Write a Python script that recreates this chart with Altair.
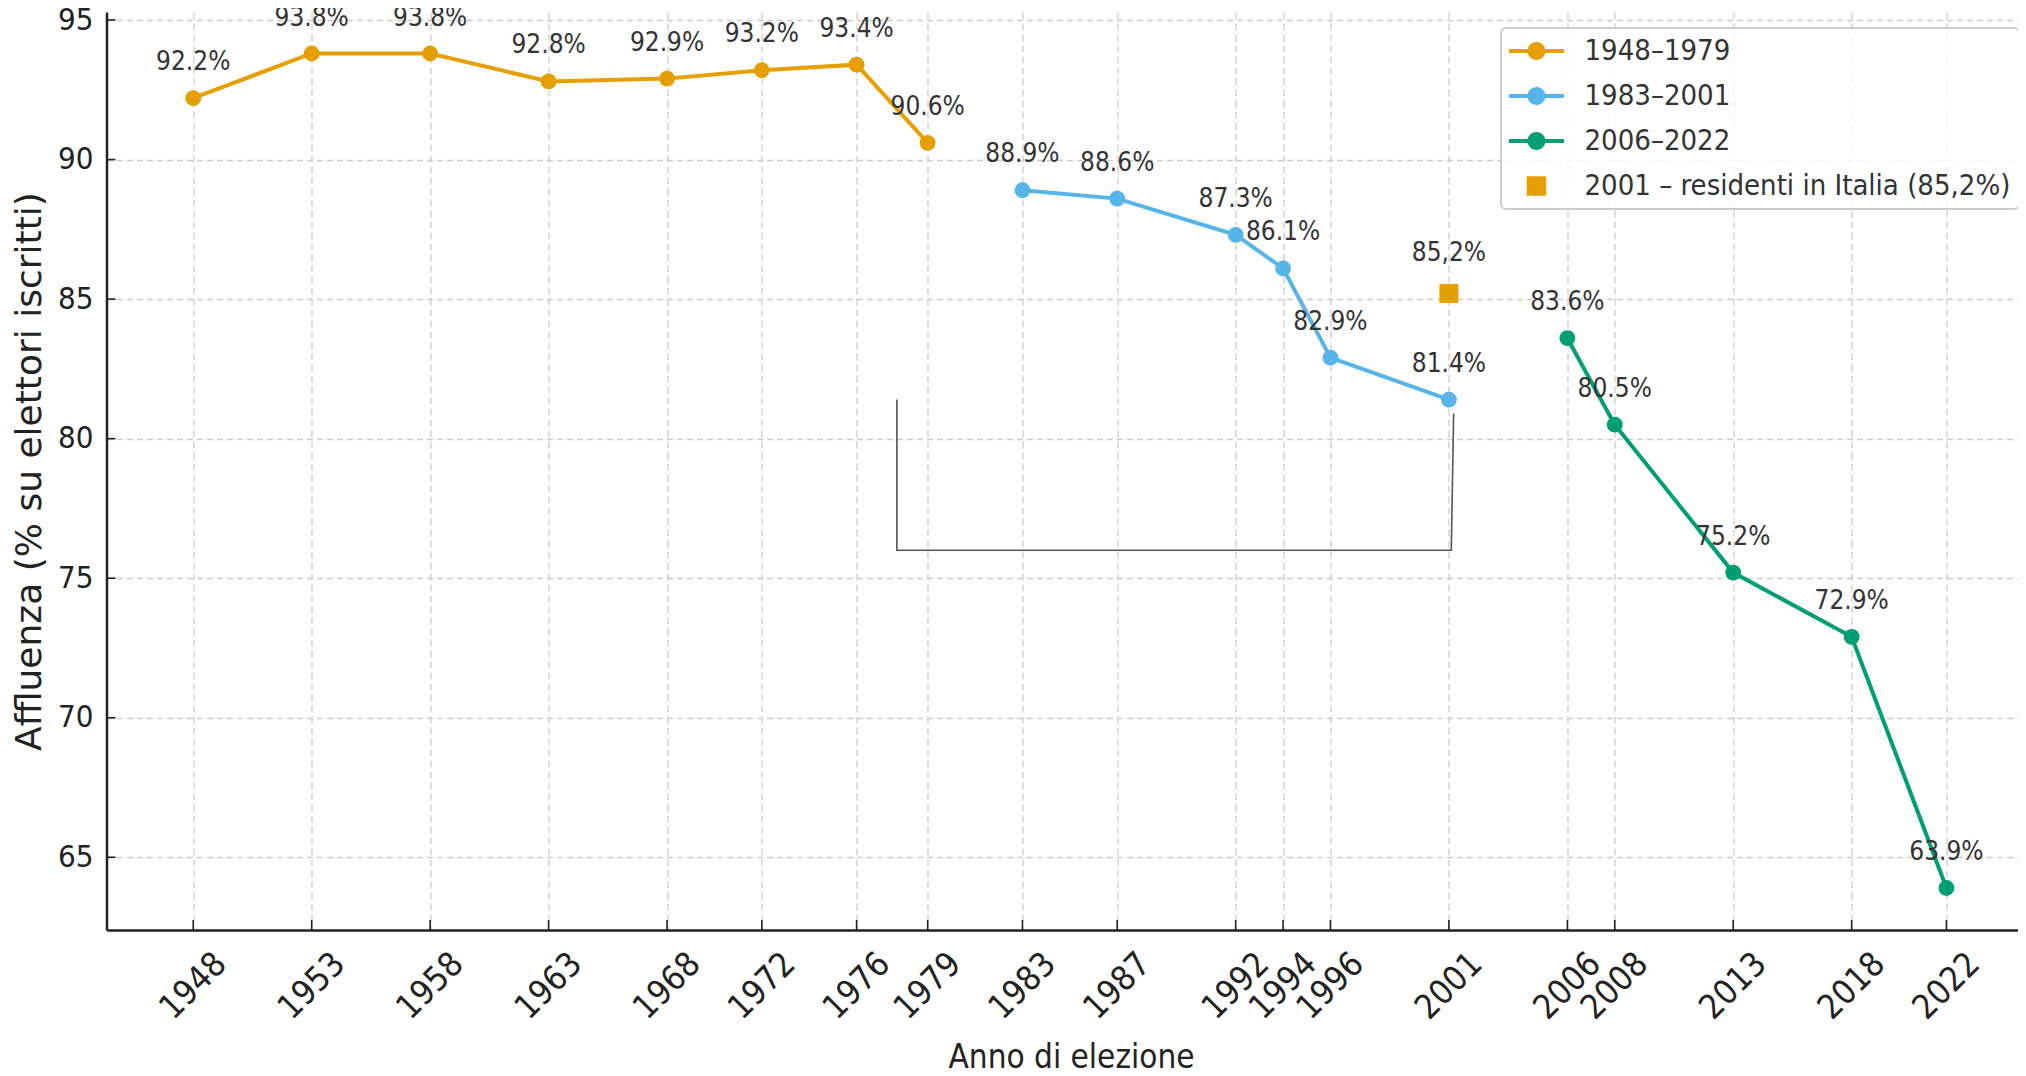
import altair as alt
import pandas as pd

# ---------------- data ----------------
years_a = [1948, 1953, 1958, 1963, 1968, 1972, 1976, 1979]
vals_a = [92.2, 93.8, 93.8, 92.8, 92.9, 93.2, 93.4, 90.6]
years_b = [1983, 1987, 1992, 1994, 1996, 2001]
vals_b = [88.9, 88.6, 87.3, 86.1, 82.9, 81.4]
years_c = [2006, 2008, 2013, 2018, 2022]
vals_c = [83.6, 80.5, 75.2, 72.9, 63.9]
series_names = ["1948–1979", "1983–2001", "2006–2022"]
series_colors = ["#E69F00", "#56B4E9", "#009E73"]

resid_year = [2001]
resid_value = [85.2]
resid_label = ["85,2%"]
resid_name = "2001 – residenti in Italia (85,2%)"
resid_color = "#E69F00"

y_ticks = [65, 70, 75, 80, 85, 90, 95]

# annotation bracket (data units)
bracket_x = [1977.7, 1977.7, 2001.1, 2001.2]
bracket_y = [81.4, 76.0, 76.0, 80.9]

# ---------------- tables ----------------
rows = []
for name, ys, vs in zip(series_names, [years_a, years_b, years_c], [vals_a, vals_b, vals_c]):
    for y, v in zip(ys, vs):
        rows.append({"year": y, "value": v, "series": name, "label": f"{v:.1f}%"})
df = pd.DataFrame(rows)
all_years = list(df["year"])

df_res = pd.DataFrame({"year": resid_year, "value": resid_value, "label": resid_label})
df_br = pd.DataFrame({"year": bracket_x, "value": bracket_y, "o": list(range(len(bracket_x)))})
df_leg = pd.DataFrame({"name": series_names + [resid_name]})

COND = "DejaVu Sans Condensed, DejaVu Sans, sans-serif"
REG = "DejaVu Sans, sans-serif"

W = 1911.5
H = 918

xscale = alt.Scale(domain=[1944.34, 2025.02], zero=False, nice=False)
yscale = alt.Scale(domain=[62.395, 95.287], zero=False, nice=False)

xaxis = alt.Axis(
    values=all_years, format="d", title="Anno di elezione",
    labelAngle=-45, labelAlign="center", labelBaseline="middle", labelPadding=56,
    labelFont=COND, labelFontSize=34, labelColor="#222", labelOverlap=False, labelFlush=False,
    ticks=False, tickSize=0,
    domainColor="#222", domainWidth=2.5,
    grid=True, gridColor="#cccccc", gridDash=[7, 4], gridWidth=1.3,
    titleFont=COND, titleFontSize=33, titleFontWeight="normal", titleColor="#222",
    titleX=964.5, titleY=137, titleBaseline="alphabetic", titleAlign="center",
)
yaxis = alt.Axis(
    values=y_ticks, title="Affluenza (% su elettori iscritti)",
    labelFont=COND, labelFontSize=31, labelColor="#222", labelPadding=13.5,
    labelAlign="right", labelBaseline="middle", labelFlush=False, labelOverlap=False,
    ticks=False, tickSize=0,
    domainColor="#222", domainWidth=2.5,
    grid=True, gridColor="#cccccc", gridDash=[6, 4], gridWidth=1.3,
    titleFont=REG, titleFontSize=36, titleFontWeight="normal", titleColor="#222",
    titleX=-66, titleY=459, titleAngle=270, titleBaseline="alphabetic", titleAlign="center",
)

x_enc = alt.X("year:Q", scale=xscale, axis=xaxis)
y_enc = alt.Y("value:Q", scale=yscale, axis=yaxis)
color_enc = alt.Color("series:N", scale=alt.Scale(domain=series_names, range=series_colors), legend=None)

# bracket annotation
bracket = alt.Chart(df_br).mark_line(color="#555555", strokeWidth=1.6).encode(
    x=x_enc, y=y_enc, order="o:Q"
)

lines = alt.Chart(df).mark_line(strokeWidth=4).encode(x=x_enc, y=y_enc, color=color_enc)
dots = alt.Chart(df).mark_circle(size=250, opacity=1).encode(x=x_enc, y=y_enc, color=color_enc)
square = alt.Chart(df_res).mark_square(size=361, opacity=1, color=resid_color).encode(x=x_enc, y=y_enc)

labels = alt.Chart(df).mark_text(font=COND, fontSize=26, color="#333333", dy=-28,
                                 baseline="alphabetic", align="center").encode(
    x=x_enc, y=y_enc, text="label:N")
res_label = alt.Chart(df_res).mark_text(font=COND, fontSize=26, color="#333333", dy=-33,
                                        baseline="alphabetic", align="center").encode(
    x=x_enc, y=y_enc, text="label:N")

# inward ticks
xticks = alt.Chart(pd.DataFrame({"year": all_years})).mark_rule(color="#222", strokeWidth=1.6).encode(
    x=x_enc, y=alt.value(H - 10), y2=alt.value(H))
yticks = alt.Chart(pd.DataFrame({"value": y_ticks})).mark_rule(color="#222", strokeWidth=1.6).encode(
    y=y_enc, x=alt.value(0), x2=alt.value(9))

# legend (symbols only, no marks drawn)
line_dot = ("M-1.833,-0.133H1.833V0.133H-1.833Z "
            "M0.6,0A0.6,0.6 0 1,1 -0.6,0A0.6,0.6 0 1,1 0.6,0Z")
sq = "M-0.65,-0.65H0.65V0.65H-0.65Z"
leg_domain = series_names + [resid_name]
leg = alt.Legend(
    title=None, orient="none", legendX=1394.5, legendY=16,
    padding=8, rowPadding=15, symbolSize=900, symbolOffset=12.5, labelOffset=33,
    labelFont=COND, labelFontSize=29, labelColor="#333333", labelLimit=1000,
    strokeColor="#cccccc", cornerRadius=5, fillColor="rgba(255,255,255,0.8)",
    symbolStrokeWidth=0,
)
legend_layer = alt.Chart(df_leg).transform_filter("false").mark_point(
    filled=True, opacity=1, strokeWidth=0).encode(
    fill=alt.Fill("name:N", scale=alt.Scale(domain=leg_domain, range=series_colors + [resid_color]), legend=leg),
    shape=alt.Shape("name:N", scale=alt.Scale(domain=leg_domain, range=[line_dot, line_dot, line_dot, sq]), legend=leg),
)

chart = alt.layer(
    bracket, lines, dots, square, labels, res_label, xticks, yticks, legend_layer
).properties(
    width=W, height=H,
    autosize=alt.AutoSizeParams(type="none"),
    padding={"left": 98.5, "top": 4, "right": 0, "bottom": 138},
).configure_view(stroke=None).configure_legend(strokeWidth=2)

chart.save("out.html", embed_options={"renderer": "svg", "actions": False})
